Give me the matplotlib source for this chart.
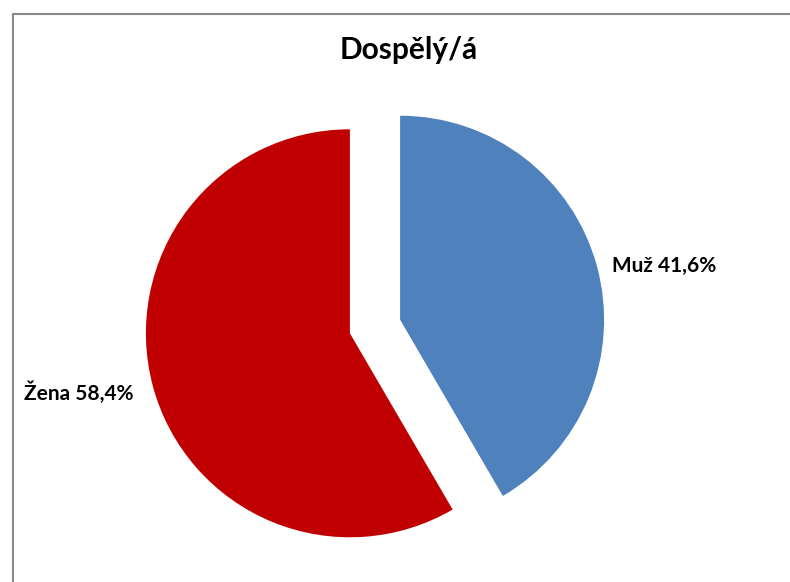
"""Pie chart: Dospělý/á by gender."""

import matplotlib

matplotlib.use("Agg")

import matplotlib.pyplot as plt

labels = ["Muž", "Žena"]
shares = [41.6, 58.4]
colors = ["#4F81BD", "#C00000"]
title = "Dospělý/á"

WIDTH, HEIGHT = 790, 582


def main() -> None:
    fig = plt.figure(figsize=(WIDTH / 100, HEIGHT / 100), dpi=100)
    axis = fig.add_axes([0, 0, 1, 1])

    radius = 204
    center = (375, HEIGHT - 326.5)
    axis.pie(
        shares,
        colors=colors,
        startangle=90,
        counterclock=False,
        radius=radius,
        center=center,
        explode=[26, 26],
        wedgeprops={"linewidth": 0},
        frame=True,
    )
    axis.set_xlim(0, WIDTH)
    axis.set_ylim(0, HEIGHT)
    axis.set_aspect("equal")
    axis.set_axis_off()

    font = ["Lato", "DejaVu Sans"]
    axis.text(409, HEIGHT - 50, title, ha="center", va="center",
              fontsize=21.5, fontweight="bold", family=font)
    axis.text(612, HEIGHT - 266, f"{labels[0]} {shares[0]:.1f}%".replace(".", ","),
              ha="left", va="center", fontsize=15, fontweight="bold", family=font)
    axis.text(24, HEIGHT - 393, f"{labels[1]} {shares[1]:.1f}%".replace(".", ","),
              ha="left", va="center", fontsize=15, fontweight="bold", family=font)

    # chart border: only the top and left edges fall inside the picture
    axis.plot([13, 13, WIDTH + 20], [-20, HEIGHT - 14, HEIGHT - 14],
              color="#8a8a8a", linewidth=1.5, clip_on=False,
              solid_joinstyle="miter")

    fig.savefig("out.png", dpi=100)
    plt.close(fig)


if __name__ == "__main__":
    main()
